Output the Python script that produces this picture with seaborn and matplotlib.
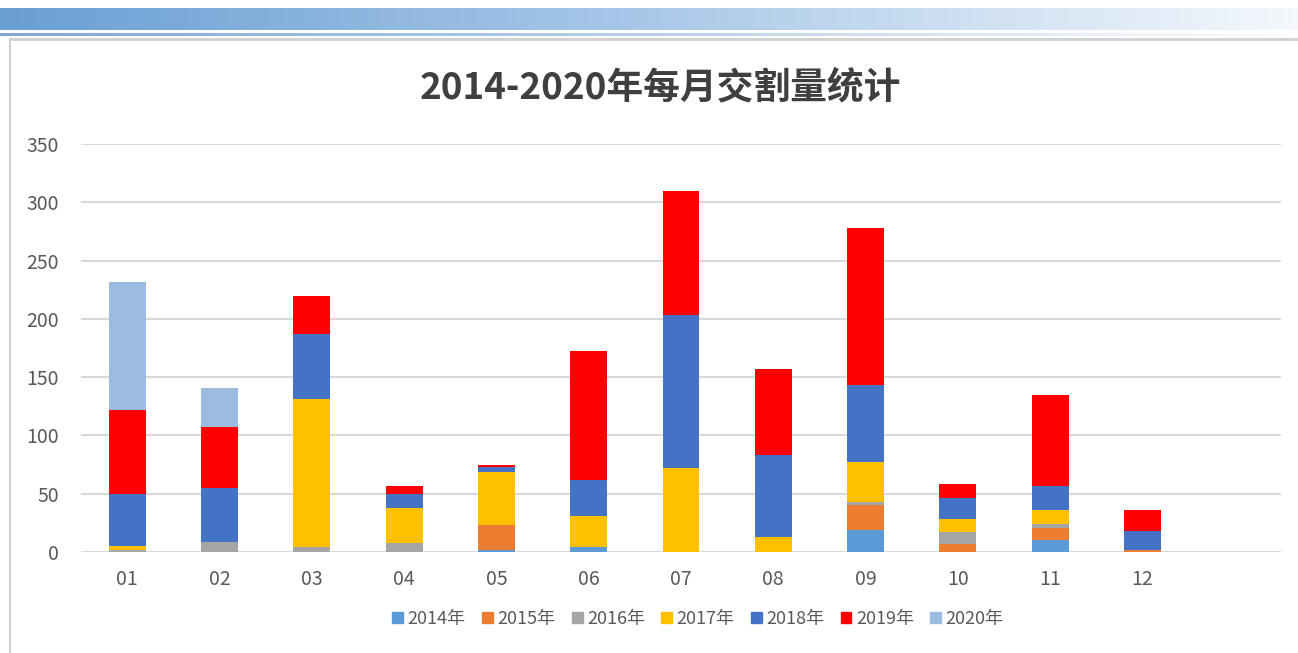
import numpy as np
import pandas as pd
import matplotlib.pyplot as plt
import matplotlib.patches as mpatches
from matplotlib.lines import Line2D
from matplotlib.colors import LinearSegmentedColormap
import seaborn as sns

# monthly delivery volume, one list per year (stacked bottom -> top)
months = ['01', '02', '03', '04', '05', '06', '07', '08', '09', '10', '11', '12']
years = ['2014年', '2015年', '2016年', '2017年', '2018年', '2019年', '2020年']
v2014 = [0, 0, 0, 0, 2, 4, 0, 0, 19, 0, 10, 0]
v2015 = [0, 0, 0, 0, 21, 0, 0, 0, 21, 7, 11, 2]
v2016 = [2, 9, 4, 8, 0, 0, 0, 0, 3, 10, 3, 0]
v2017 = [3, 0, 127, 30, 46, 27, 72, 13, 34, 11, 12, 0]
v2018 = [45, 46, 56, 12, 4, 31, 131, 70, 66, 18, 21, 16]
v2019 = [72, 52, 33, 7, 2, 110, 107, 74, 135, 12, 78, 18]
v2020 = [110, 34, 0, 0, 0, 0, 0, 0, 0, 0, 0, 0]
colors = ['#5B9BD5', '#ED7D31', '#A5A5A5', '#FFC000', '#4472C4', '#FF0000', '#9BBCE0']

series = [v2014, v2015, v2016, v2017, v2018, v2019, v2020]
df = pd.DataFrame({'month': months})
for y, s in zip(years, series):
    df[y] = s

sns.set_style('white')
plt.rcParams['font.family'] = ['Noto Sans CJK SC', 'DejaVu Sans']

fig = plt.figure(figsize=(12.98, 6.53), dpi=100)

# header gradient band + frame lines
grad = np.linspace(0, 1, 256).reshape(1, -1)
hdr = fig.add_axes([0, 1 - 30 / 653, 1, 22 / 653])
cm = LinearSegmentedColormap.from_list('hdr', ['#6A9FD4', '#A9C8E8', '#F4F8FC'])
hdr.imshow(grad, aspect='auto', cmap=cm)
hdr.axis('off')
line = fig.add_axes([0, 1 - 36 / 653, 1, 3 / 653])
cm2 = LinearSegmentedColormap.from_list('ln', ['#7FA8D8', '#B8CFE8', '#FFFFFF'])
line.imshow(grad, aspect='auto', cmap=cm2)
line.axis('off')
fig.add_artist(Line2D([10 / 1298, 1], [1 - 39 / 653] * 2, color='#D0D0D0', lw=2))
fig.add_artist(Line2D([10 / 1298] * 2, [0, 1 - 39 / 653], color='#D0D0D0', lw=1.5))

ax = fig.add_axes([81 / 1298, 1 - 552 / 653, 1200 / 1298, 408 / 653])
bottom = np.zeros(len(months))
for y, c in zip(years, colors):
    sns.barplot(data=df, x='month', y=y, color=c, width=0.4, bottom=bottom,
                saturation=1, ax=ax, linewidth=0)
    bottom = bottom + df[y].values

ax.set_xlim(-0.5, 12.5)
ax.set_ylim(0, 350)
ax.set_yticks(range(0, 351, 50))
ax.grid(axis='y', color='#D9D9D9', lw=1.5)
ax.set_axisbelow(True)
for s in ax.spines.values():
    s.set_visible(False)
ax.set_xlabel('')
ax.set_ylabel('')
ax.tick_params(axis='both', length=0, labelsize=14, labelcolor='#595959')
ax.tick_params(axis='y', pad=16)
ax.tick_params(axis='x', pad=12)

fig.text(660 / 1298, 1 - 88 / 653, '2014-2020年每月交割量统计', ha='center', va='center',
         fontsize=26.5, fontweight='bold', color='#3F3F3F')

handles = [mpatches.Patch(color=c, label=y) for y, c in zip(years, colors)]
fig.legend(handles=handles, loc='center', bbox_to_anchor=(698 / 1298, 1 - 619 / 653),
           ncol=7, frameon=False, fontsize=13, handlelength=0.6, handleheight=0.6,
           handletextpad=0.25, columnspacing=0.9, labelcolor='#595959')

fig.savefig('out.png', dpi=100)
